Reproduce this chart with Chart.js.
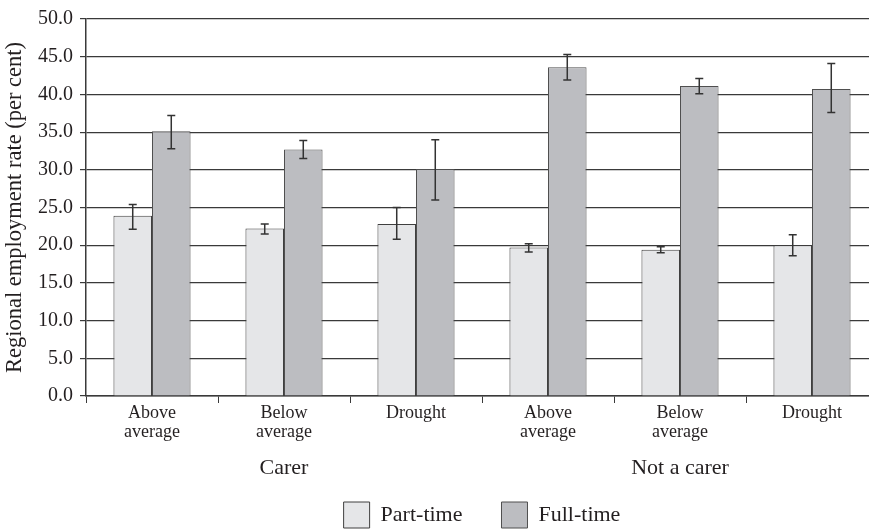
<!DOCTYPE html>
<html>
<head>
<meta charset="utf-8">
<script src="https://cdn.jsdelivr.net/npm/chart.js@4"></script>
<style>
    html, body { margin: 0; padding: 0; background: #fff; overflow: hidden; }
    #wrap { width: 880px; height: 538px; }
    canvas { display: block; }
</style>
</head>
<body>
<div id="wrap"><canvas id="empChart" width="880" height="538"></canvas></div>
<script>
// ── Data ─────────────────────────────────────────────────────
const categories = [["Above", "average"], ["Below", "average"], ["Drought"],
                    ["Above", "average"], ["Below", "average"], ["Drought"]];
const groupLabels = ["Carer", "Not a carer"];
const yTicks = [0, 5, 10, 15, 20, 25, 30, 35, 40, 45, 50];

const partTime = [23.9, 22.2, 22.8, 19.7, 19.4, 20.0];
const partLow  = [22.1, 21.5, 20.8, 19.1, 19.0, 18.6];
const partHigh = [25.4, 22.8, 25.0, 20.2, 19.8, 21.4];

const fullTime = [35.1, 32.7, 30.1, 43.6, 41.1, 40.7];
const fullLow  = [32.8, 31.5, 26.0, 41.9, 40.1, 37.6];
const fullHigh = [37.2, 33.9, 34.0, 45.3, 42.1, 44.1];

const errLow = [partLow, fullLow];
const errHigh = [partHigh, fullHigh];

// ── Styling ──────────────────────────────────────────────────
const SERIF = "'Liberation Serif', 'Times New Roman', serif";
const INK = "#231f20";
const LINE = "#3a3a3a";

// Error bars drawn on top of the bars, through the y scale
const errorBars = {
    id: "errorBars",
    afterDatasetsDraw(chart) {
        const { ctx } = chart;
        const y = chart.scales.y;
        ctx.save();
        ctx.strokeStyle = "#333";
        ctx.lineWidth = 1.5;
        chart.data.datasets.forEach((ds, di) => {
            const meta = chart.getDatasetMeta(di);
            meta.data.forEach((bar, i) => {
                const yHi = y.getPixelForValue(errHigh[di][i]);
                const yLo = y.getPixelForValue(errLow[di][i]);
                const cap = 4;
                ctx.beginPath();
                ctx.moveTo(bar.x, yHi); ctx.lineTo(bar.x, yLo);
                ctx.moveTo(bar.x - cap, yHi); ctx.lineTo(bar.x + cap, yHi);
                ctx.moveTo(bar.x - cap, yLo); ctx.lineTo(bar.x + cap, yLo);
                ctx.stroke();
            });
        });
        ctx.restore();
    }
};

const ctx = document.getElementById("empChart").getContext("2d");
new Chart(ctx, {
    type: "bar",
    data: {
        labels: categories,
        datasets: [
            { label: "Part-time", data: partTime, backgroundColor: "#e5e6e8", borderColor: "#3f3f3f", borderWidth: 1 },
            { label: "Full-time", data: fullTime, backgroundColor: "#bcbdc1", borderColor: "#4f4f4f", borderWidth: 1 }
        ]
    },
    options: {
        responsive: false,
        animation: false,
        layout: { padding: { top: 16, right: 2, left: 0, bottom: 0 } },
        datasets: { bar: { categoryPercentage: 0.584, barPercentage: 1.0 } },
        plugins: {
            tooltip: { enabled: false },
            legend: {
                position: "bottom",
                fullSize: false,
                labels: {
                    boxWidth: 26, boxHeight: 26, padding: 39,
                    color: INK, font: { family: SERIF, size: 22 }
                }
            }
        },
        scales: {
            x: {
                type: "category",
                offset: true,
                grid: { display: true, offset: true, drawOnChartArea: false, drawTicks: true, tickLength: 7, color: LINE, lineWidth: 1 },
                border: { display: true, color: LINE, width: 1.5 },
                ticks: { color: INK, font: { family: SERIF, size: 18, lineHeight: 1.05 }, padding: 1, maxRotation: 0, autoSkip: false },
                afterFit: s => { s.height = 51; }
            },
            // Second row of labels: the two groups (mirror keeps them from being clipped to the thin box)
            x2: {
                type: "category",
                labels: groupLabels,
                position: "bottom",
                offset: true,
                bounds: "ticks",
                min: 0,
                max: groupLabels.length - 1,
                grid: { display: false, drawTicks: false },
                border: { display: false },
                ticks: { display: true, mirror: true, color: INK, font: { family: SERIF, size: 22 }, padding: -34, maxRotation: 0, autoSkip: false },
                afterFit: s => { s.height = 16; }
            },
            y: {
                min: 0, max: 50,
                afterBuildTicks: s => { s.ticks = yTicks.map(v => ({ value: v })); },
                grid: { color: LINE, lineWidth: 1.2, tickLength: 6 },
                border: { display: true, color: LINE, width: 1.5 },
                ticks: { color: INK, font: { family: SERIF, size: 20 }, padding: 7, callback: v => v.toFixed(1) },
                title: { display: true, text: "Regional employment rate (per cent)", color: INK, font: { family: SERIF, size: 22.5 }, padding: { top: 2, bottom: 0 } },
                afterFit: s => { s.width = 86; }
            }
        }
    },
    plugins: [errorBars]
});
</script>
</body>
</html>
